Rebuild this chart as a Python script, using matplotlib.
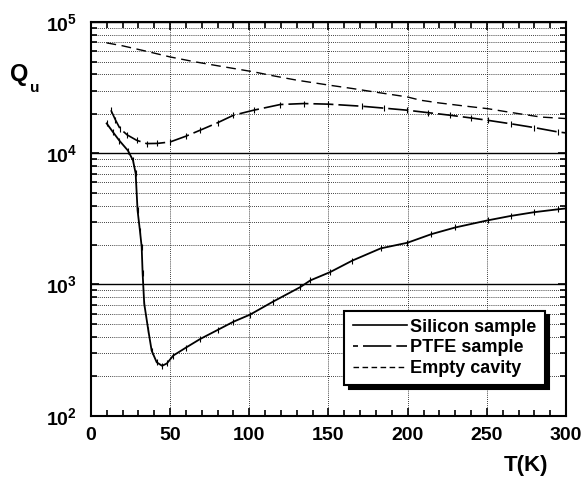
import numpy as np
import matplotlib
matplotlib.use("Agg")
import matplotlib.pyplot as plt
from matplotlib.lines import Line2D
from matplotlib.ticker import MultipleLocator, LogLocator, FuncFormatter, NullFormatter

plt.rcParams["font.family"] = ["Liberation Sans", "DejaVu Sans"]
plt.rcParams["font.weight"] = "bold"
plt.rcParams["mathtext.fontset"] = "custom"
plt.rcParams["mathtext.rm"] = "Liberation Sans:bold"
plt.rcParams["mathtext.bf"] = "Liberation Sans:bold"
plt.rcParams["mathtext.default"] = "rm"

# --------------------------------------------------
# Unloaded Q versus temperature
# --------------------------------------------------
si_T = [10, 14, 18, 23.4, 26.6, 28.3, 29.5, 31, 32.1, 32.7, 33.7, 36.3, 38.4, 41.6,
        45, 48, 52, 60, 69, 80, 90, 100.6, 115, 132, 138.6, 151, 165, 183, 199.8,
        215, 230, 250.4, 265, 280, 294.7, 300]
si_Q = [16900, 14500, 12500, 10500, 8850, 7030, 3670, 2570, 1930, 1213, 716, 446,
        313, 255, 240, 250, 287, 330, 384, 450, 520, 590, 740, 952, 1075, 1242,
        1520, 1885, 2080, 2420, 2720, 3080, 3330, 3560, 3740, 3800]

ptfe_T = [12.7, 15.5, 18.4, 23, 28.9, 35.2, 42, 50, 60, 69, 80, 90, 102.7, 119.6,
          134.4, 150, 171.3, 185, 199.8, 213, 227, 240, 250.4, 265, 280, 294.7, 300]
ptfe_Q = [21300, 18000, 15450, 13800, 12570, 11860, 11900, 12200, 13500, 15000,
          17100, 19500, 21300, 23550, 23950, 23700, 22840, 22100, 21300, 20400,
          19500, 18600, 17860, 16800, 15700, 14560, 14300]

cav_T = [9.9, 20, 35, 50, 65, 80, 102.7, 115, 130, 151, 165, 178.6, 199.8, 208,
         220, 235, 250.4, 265, 284, 300]
cav_Q = [69500, 66000, 60000, 54300, 50000, 46500, 41800, 39000, 36100, 33000,
         31200, 29400, 26900, 25400, 24200, 23000, 21900, 20500, 18900, 18400]

fig = plt.figure(figsize=(5.86, 4.82), dpi=100)
ax = fig.add_axes([0.155, 0.1376, 0.811, 0.8165])

ax.plot(si_T, si_Q, color="black", lw=1.3, marker="|", ms=4, mew=0.8)
ax.plot(ptfe_T, ptfe_Q, color="black", lw=1.2, dashes=(12, 3), marker="|", ms=4, mew=0.8)
ax.plot(cav_T, cav_Q, color="black", lw=1.0, dashes=(7, 4))

ax.set_yscale("log")
ax.set_xlim(0, 300)
ax.set_ylim(100, 100000)

ax.xaxis.set_major_locator(MultipleLocator(50))
ax.xaxis.set_minor_locator(MultipleLocator(10))
ax.yaxis.set_major_locator(LogLocator(base=10))
ax.yaxis.set_minor_locator(LogLocator(base=10, subs=np.arange(2, 10)))
ax.yaxis.set_minor_formatter(NullFormatter())
ax.yaxis.set_major_formatter(FuncFormatter(lambda v, p: r"$10^{%d}$" % round(np.log10(v))))

ax.tick_params(which="both", direction="in", top=True, right=True, width=1.2)
ax.tick_params(which="major", length=6, labelsize=14, pad=8)
ax.tick_params(which="minor", length=4)
ax.tick_params(axis="y", which="major", pad=10)

# decade lines solid, everything else dotted
ax.grid(True, which="major", axis="y", color="black", lw=1.0, ls="-")
ax.grid(True, which="minor", axis="y", color="black", lw=0.6, ls=(0, (1, 1.5)))
ax.grid(True, which="major", axis="x", color="black", lw=0.6, ls=(0, (1, 1.5)))

for s in ax.spines.values():
    s.set_linewidth(1.5)

fig.text(0.017, 0.846, "Q", fontsize=17, fontweight="bold", va="center")
fig.text(0.052, 0.818, "u", fontsize=11, fontweight="bold", va="center")
fig.text(0.86, 0.035, "T(K)", fontsize=16, fontweight="bold", va="center")

handles = [
    Line2D([], [], color="black", lw=1.2),
    Line2D([], [], color="black", lw=1.2, dashes=(3, 3, 14, 0)),
    Line2D([], [], color="black", lw=1.0, dashes=(4, 2.5)),
]
labels = ["Silicon sample", "PTFE sample", "Empty cavity"]
leg = ax.legend(handles, labels, loc="lower right", bbox_to_anchor=(0.955, 0.078),
                fontsize=13, frameon=True, fancybox=False,
                shadow={"color": "black", "alpha": 1, "ox": 3, "oy": -3},
                edgecolor="black", framealpha=1, handlelength=3.0,
                borderpad=0.45, labelspacing=0.2, handletextpad=0.2,
                borderaxespad=0)
leg.get_frame().set_linewidth(1.5)

fig.savefig("out.png", dpi=100)
